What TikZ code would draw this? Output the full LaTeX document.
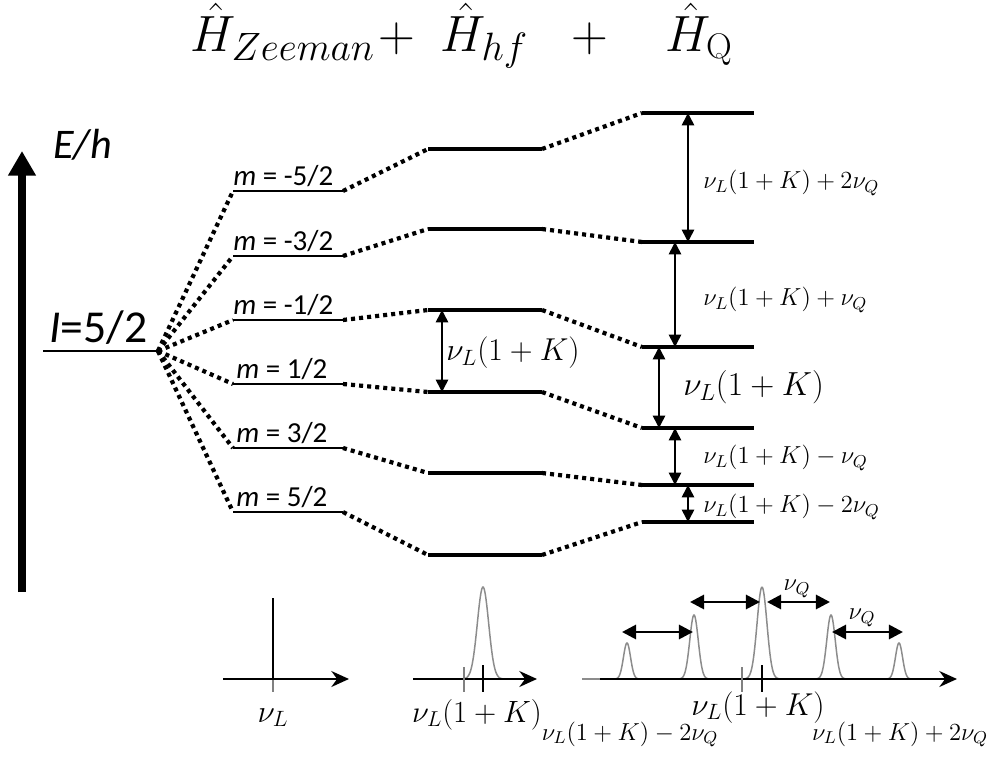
\RequirePackage{fix-cm}
\documentclass[tikz,border=0pt]{standalone}
\usepackage{fontspec}
\newfontfamily\calibfont{Carlito}
\usetikzlibrary{arrows.meta,calc}
\newcommand{\subbig}[1]{\mbox{\fontsize{22.5}{26}\selectfont$#1$}}
\tikzset{
 mlevel/.style={line width=0.85pt},
 thicklevel/.style={line width=2.8pt},
 dots/.style={line width=2.4pt, dash pattern=on 2.3pt off 2.3pt},
 dblarrow/.style={line width=0.9pt, {Triangle[length=7pt,width=7pt]}-{Triangle[length=7pt,width=7pt]}},
 specaxis/.style={line width=1.6pt, -{Stealth[length=10pt,width=9pt]}},
 peak/.style={draw=gray!90, line width=0.85pt},
 specdbl/.style={line width=1.6pt, {Triangle[length=8pt,width=8pt]}-{Triangle[length=8pt,width=8pt]}},
 smallmath/.style={font=\fontsize{14}{16}\selectfont, inner sep=0pt},
 bigmath/.style={font=\fontsize{18}{21}\selectfont, inner sep=0pt},
 titlemath/.style={font=\fontsize{29}{34}\selectfont, inner sep=0pt, anchor=base west},
 mlab/.style={font=\calibfont\fontsize{16.5}{19}\selectfont, inner sep=0pt, anchor=base west},
}
\begin{document}
\begin{tikzpicture}[x=0.02cm,y=-0.02cm]
\useasboundingbox (0,0) rectangle (992,758);
% title
\node[titlemath] (t1) at (190,51) {$\hat{H}_{\subbig{Zeeman}}$};
\node[titlemath] (t2) at (378,51) {$+$};
\node[titlemath] (t3) at (440,51) {$\hat{H}_{\subbig{hf}}$};
\node[titlemath] (t4) at (571,51) {$+$};
\node[titlemath] (t5) at (665,51) {$\hat{H}_{\mathrm{Q}}$};
% energy axis
\coordinate (Etail) at (22,592);
\coordinate (Ehead) at (22,151);
\draw[line width=4pt, -{Triangle[length=14pt,width=15pt]}] (Etail) -- (Ehead);
\node[anchor=base west, inner sep=0pt, font=\calibfont\itshape\fontsize{24}{28}\selectfont] (Eh) at (53,158) {E/h};
% I level
\coordinate (Ia) at (43,351);
\coordinate (I) at (158,351);
\draw[mlevel] (Ia) -- (I);
\node[anchor=base west, inner sep=0pt, font=\calibfont\fontsize{26}{30}\selectfont] (Ilab) at (49,342) {\textit{I}=5/2};
% levels
\foreach \i/\ym/\yh/\yq in {1/191/149/113, 2/256/229/242, 3/320/310/347, 4/384/392/428, 5/448/473/485, 6/512/555/522} {
 \coordinate (ma\i) at (233,\ym);
 \coordinate (mb\i) at (343,\ym);
 \coordinate (ha\i) at (428,\yh);
 \coordinate (hb\i) at (542,\yh);
 \coordinate (qa\i) at (642,\yq);
 \coordinate (qb\i) at (754,\yq);
 \draw[mlevel] (ma\i) -- (mb\i);
 \draw[thicklevel] (ha\i) -- (hb\i);
 \draw[thicklevel] (qa\i) -- (qb\i);
 \draw[dots] (I) -- (ma\i);
 \draw[dots] (mb\i) -- (ha\i);
 \draw[dots] (hb\i) -- (qa\i);
}
\node[mlab] (m1) at (233,185) {\textit{m} = -5/2};
\node[mlab] (m2) at (233,250) {\textit{m} = -3/2};
\node[mlab] (m3) at (233,314) {\textit{m} = -1/2};
\node[mlab] (m4) at (236,378) {\textit{m} = 1/2};
\node[mlab] (m5) at (236,442) {\textit{m} = 3/2};
\node[mlab] (m6) at (236,506) {\textit{m} = 5/2};
% arrows between levels
\draw[dblarrow] ($(ha3)+(14,0)$) -- ($(ha4)+(14,0)$);
\node[bigmath, anchor=west] (lh) at (446,353) {$\nu_L(1+K)$};
\draw[dblarrow] ($(qa1)+(46,0)$) -- ($(qa2)+(46,0)$);
\draw[dblarrow] ($(qa2)+(33,0)$) -- ($(qa3)+(33,0)$);
\draw[dblarrow] ($(qa3)+(17,0)$) -- ($(qa4)+(17,0)$);
\draw[dblarrow] ($(qa4)+(33,0)$) -- ($(qa5)+(33,0)$);
\draw[dblarrow] ($(qa5)+(46,0)$) -- ($(qa6)+(46,0)$);
\node[smallmath, anchor=west] (lq1) at (703,183) {$\nu_L(1+K)+2\nu_Q$};
\node[smallmath, anchor=west] (lq2) at (703,300) {$\nu_L(1+K)+\nu_Q$};
\node[bigmath, anchor=west, font=\fontsize{19}{22}\selectfont] (lq3) at (683,387) {$\nu_L(1+K)$};
\node[smallmath, anchor=west] (lq4) at (703,458) {$\nu_L(1+K)-\nu_Q$};
\node[smallmath, anchor=west] (lq5) at (703,507) {$\nu_L(1+K)-2\nu_Q$};
% Zeeman spectrum
\coordinate (z0) at (223,679);
\coordinate (z1) at (349,679);
\coordinate (zl) at (273,679);
\coordinate (zt) at (273,598);
\coordinate (zb) at (273,692);
\draw[gray, line width=1.6pt] (zl) -- (zb);
\draw[specaxis] (z0) -- (z1);
\draw[line width=1.6pt] (zl) -- (zt);
\node[bigmath, anchor=base] (nuL) at (273,722) {$\nu_L$};
% hf spectrum
\coordinate (h0) at (413,679);
\coordinate (h1) at (537,679);
\draw[peak] plot[domain=459:507, samples=60] (\x,{679-92*exp(-((\x-483)/8)^2)});
\draw[specaxis] (h0) -- (h1);
\draw[gray, line width=1.3pt] (464,667) coordinate (hg0) -- (464,692) coordinate (hg1);
\draw[line width=1.3pt] (483,665) coordinate (hk0) -- (483,692) coordinate (hk1);
\node[bigmath, anchor=base, font=\fontsize{17.5}{20}\selectfont] (lhs) at (477,722) {$\nu_L(1+K)$};
% Q spectrum
\coordinate (q0) at (600,679);
\coordinate (q1) at (957,679);
\draw[peak] (582,679) -- (940,679);
\foreach \c/\h/\s in {627/36/5, 694/64/6, 762/92/7, 831/64/6, 899/36/5} {
 \draw[peak] plot[domain={\c-3.2*\s}:{\c+3.2*\s}, samples=60] (\x,{679-\h*exp(-((\x-\c)/\s)^2)});
}
\draw[specaxis] (q0) -- (q1);
\draw[gray, line width=1.3pt] (742,667) coordinate (qg0) -- (742,692) coordinate (qg1);
\draw[line width=1.3pt] (762,665) coordinate (qk0) -- (762,692) coordinate (qk1);
\coordinate (a1) at (622,632); \coordinate (a2) at (693,632);
\coordinate (a3) at (690,602); \coordinate (a4) at (760,602);
\coordinate (a5) at (767,602); \coordinate (a6) at (830,602);
\coordinate (a7) at (832,632); \coordinate (a8) at (903,632);
\draw[specdbl] (a1) -- (a2);
\draw[specdbl] (a3) -- (a4);
\draw[specdbl] (a5) -- (a6);
\draw[specdbl] (a7) -- (a8);
\node[smallmath] (nq1) at (797,589) {$\nu_Q$};
\node[smallmath] (nq2) at (862,618) {$\nu_Q$};
\node[bigmath, anchor=base] (lqs) at (758,715) {$\nu_L(1+K)$};
\node[smallmath, anchor=base] (lqm) at (630,740) {$\nu_L(1+K)-2\nu_Q$};
\node[smallmath, anchor=base] (lqp) at (900,740) {$\nu_L(1+K)+2\nu_Q$};
\end{tikzpicture}
\end{document}
